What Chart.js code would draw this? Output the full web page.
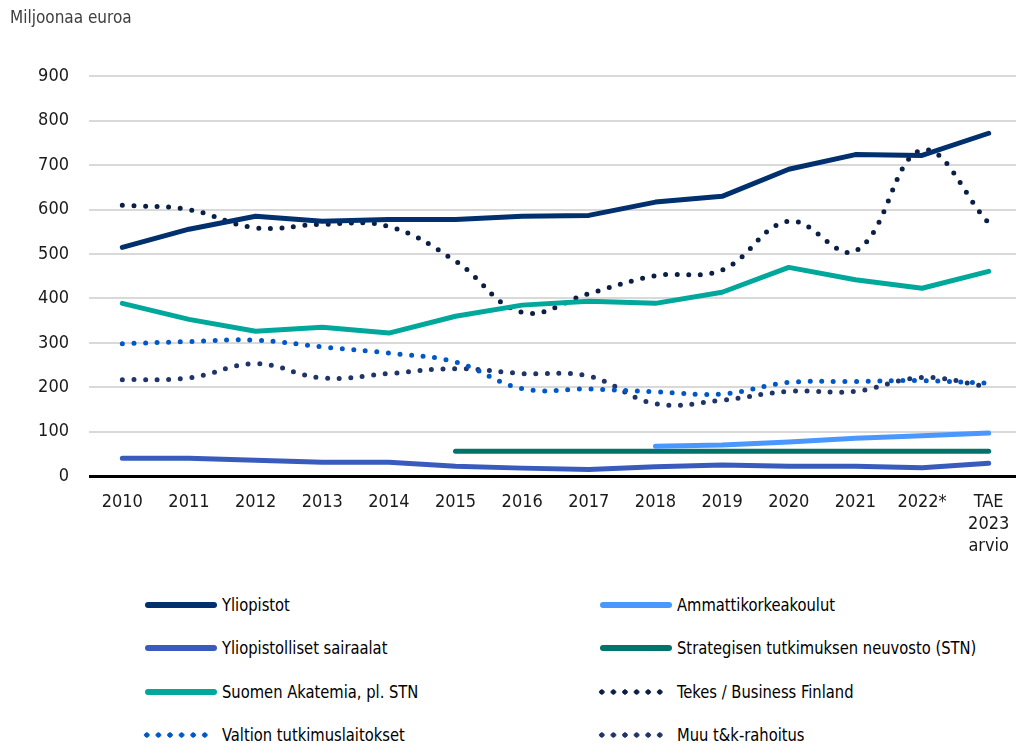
<!DOCTYPE html>
<html>
<head>
<meta charset="utf-8">
<script src="https://cdn.jsdelivr.net/npm/chart.js@4.4.1/dist/chart.umd.min.js"></script>
<style>
  body { margin: 0; width: 1016px; height: 749px; overflow: hidden; background: #fff; position: relative; }
  #wrap { position: absolute; left: 0; top: 0; width: 1024px; height: 570px; }
  .font { font-family: 'Liberation Sans Narrow', 'DejaVu Sans Condensed', 'Roboto Condensed', sans-serif; }
  .item { position: absolute; height: 24px; font-size: 18px; color: #000; white-space: nowrap; }
  .item .mark { position: absolute; top: 9px; height: 6px; }
  .item .txt { position: absolute; top: 0; line-height: 24px; transform: scaleX(0.91); transform-origin: 0 50%; }
</style>
</head>
<body>
<div id="wrap"><canvas id="chart" width="1024" height="570"></canvas></div>
<div id="legend" class="font"></div>
<script>
const FONT = "'Liberation Sans Narrow', 'DejaVu Sans Condensed', 'Roboto Condensed', sans-serif";

const years = ['2010', '2011', '2012', '2013', '2014', '2015', '2016', '2017', '2018', '2019', '2020', '2021', '2022*', ['TAE', '2023', 'arvio']];
const yTicks = [0, 100, 200, 300, 400, 500, 600, 700, 800, 900];

const yliopistot = [515, 556, 585, 574, 578, 578, 585, 587, 617, 630, 691, 724, 722, 772];
const amk = [null, null, null, null, null, null, null, null, 67, 70, 77, 85, 91, 97];
const sairaalat = [40, 40, 36, 31, 31, 22, 18, 15, 21, 25, 22, 22, 19, 29];
const stn = [null, null, null, null, null, 56, 56, 56, 56, 56, 56, 56, 56, 56];
const akatemia = [389, 353, 326, 335, 322, 360, 385, 394, 389, 414, 470, 442, 423, 461];
const tekes = [610, 600, 559, 567, 562, 484, 369, 411, 451, 464, 574, 507, 734, 570];
const valtion = [298, 303, 306, 291, 277, 257, 197, 196, 190, 185, 211, 213, 215, 209];
const muu = [217, 221, 253, 221, 231, 242, 231, 225, 163, 171, 191, 191, 222, 201];

const series = [
  { label: 'Yliopistot', data: yliopistot, color: '#00306e', dotted: false },
  { label: 'Ammattikorkeakoulut', data: amk, color: '#4a98ff', dotted: false },
  { label: 'Yliopistolliset sairaalat', data: sairaalat, color: '#3a5bbe', dotted: false },
  { label: 'Strategisen tutkimuksen neuvosto (STN)', data: stn, color: '#00736b', dotted: false },
  { label: 'Suomen Akatemia, pl. STN', data: akatemia, color: '#00a89c', dotted: false },
  { label: 'Tekes / Business Finland', data: tekes, color: '#0b1f45', dotted: true },
  { label: 'Valtion tutkimuslaitokset', data: valtion, color: '#0058c8', dotted: true },
  { label: 'Muu t&k-rahoitus', data: muu, color: '#1f3468', dotted: true }
];

const datasets = series.map(s => ({
  label: s.label,
  data: s.data,
  borderColor: s.color,
  backgroundColor: s.color,
  borderWidth: 5,
  borderCapStyle: 'round',
  borderJoinStyle: 'round',
  borderDash: s.dotted ? [0, 11.6] : [],
  tension: s.dotted ? 0.4 : 0,
  pointRadius: 0,
  pointHoverRadius: 0,
  spanGaps: false
}));

new Chart(document.getElementById('chart'), {
  type: 'line',
  data: { labels: years, datasets: datasets },
  options: {
    responsive: false,
    animation: false,
    devicePixelRatio: 1,
    layout: { padding: { left: 10, right: 2, top: 0, bottom: 6 } },
    plugins: {
      legend: { display: false },
      tooltip: { enabled: false },
      title: {
        display: true,
        text: 'Miljoonaa euroa',
        align: 'start',
        color: '#404040',
        font: { family: FONT, size: 17, weight: 'normal' },
        padding: { top: 8, bottom: 48 }
      }
    },
    scales: {
      x: {
        offset: true,
        grid: { display: false },
        border: { display: false },
        ticks: {
          color: '#1a1a1a',
          font: { family: FONT, size: 18, lineHeight: 1.22 },
          padding: 7,
          maxRotation: 0,
          autoSkip: false
        }
      },
      y: {
        min: 0,
        max: 900,
        afterBuildTicks: s => { s.ticks = yTicks.map(v => ({ value: v })); },
        afterFit: s => { s.width = 79; },
        border: { display: false },
        grid: {
          drawTicks: false,
          color: c => c.tick && c.tick.value === 0 ? '#000000' : '#d9d9d9',
          lineWidth: c => c.tick && c.tick.value === 0 ? 3 : 2
        },
        ticks: {
          color: '#1a1a1a',
          font: { family: FONT, size: 18 },
          padding: 20
        }
      }
    }
  }
});

// legend in two columns, same order as the reference
const legendPos = [
  [145, 605], [600, 605],
  [145, 648], [600, 648],
  [145, 692], [600, 692],
  [145, 735], [600, 735]
];
const legend = document.getElementById('legend');
series.forEach((s, i) => {
  const [x, y] = legendPos[i];
  const item = document.createElement('div');
  item.className = 'item';
  item.style.left = '0px';
  item.style.top = (y - 12) + 'px';
  const mark = document.createElement('div');
  mark.className = 'mark';
  if (s.dotted) {
    mark.style.left = (x - 3.8) + 'px';
    mark.style.width = '70px';
    mark.style.background = 'radial-gradient(circle, ' + s.color + ' 2.4px, transparent 2.9px) 0 0 / 11.6px 6px repeat-x';
  } else {
    mark.style.left = x + 'px';
    mark.style.width = '72px';
    mark.style.background = s.color;
    mark.style.borderRadius = '3px';
  }
  const txt = document.createElement('span');
  txt.className = 'txt';
  txt.style.left = (x + 77) + 'px';
  txt.textContent = s.label;
  item.appendChild(mark);
  item.appendChild(txt);
  legend.appendChild(item);
});
</script>
</body>
</html>
